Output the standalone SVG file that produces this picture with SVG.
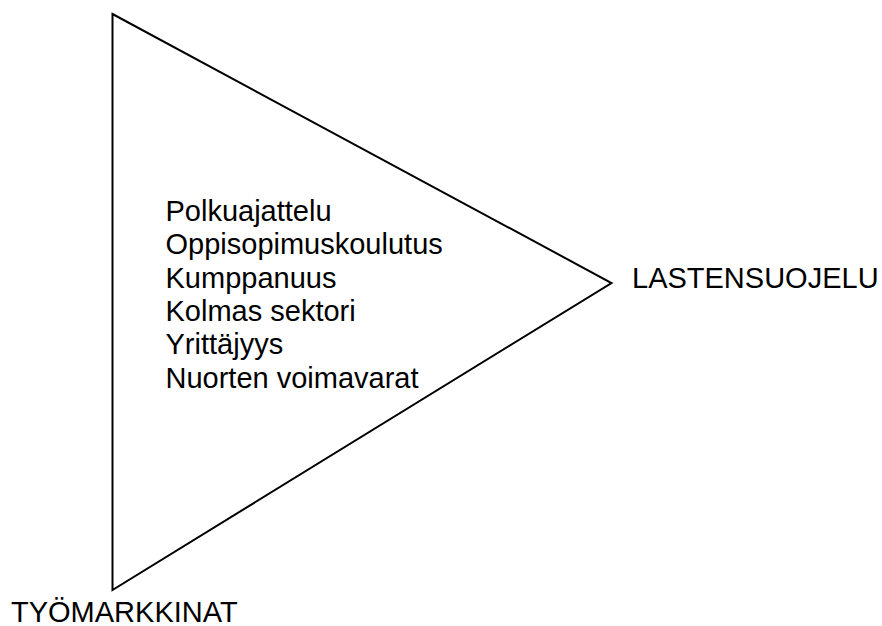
<svg xmlns="http://www.w3.org/2000/svg" width="882" height="626" viewBox="0 0 882 626">
<style>
.t{font-family:"Liberation Sans",Arial,sans-serif;font-size:29px;fill:#000}
.shape{fill:none;stroke:#000;stroke-width:2;stroke-linejoin:miter}
</style>
<rect width="882" height="626" fill="#fff"/>
<g id="triangle">
<polygon class="shape" points="112.5,14 611.5,283 112.5,590"/>
<text class="t" x="165.5" y="221">Polkuajattelu</text>
<text class="t" x="165.5" y="254.3">Oppisopimuskoulutus</text>
<text class="t" x="165.5" y="287.7">Kumppanuus</text>
<text class="t" x="165.5" y="321">Kolmas sektori</text>
<text class="t" x="165.5" y="354.3">Yrittäjyys</text>
<text class="t" x="165.5" y="387.7">Nuorten voimavarat</text>
</g>
<g id="lastensuojelu">
<text class="t" x="632" y="288.3">LASTENSUOJELU</text>
</g>
<g id="tyomarkkinat">
<text class="t" x="11" y="622">TYÖMARKKINAT</text>
</g>
<g id="connectors"></g>
</svg>
